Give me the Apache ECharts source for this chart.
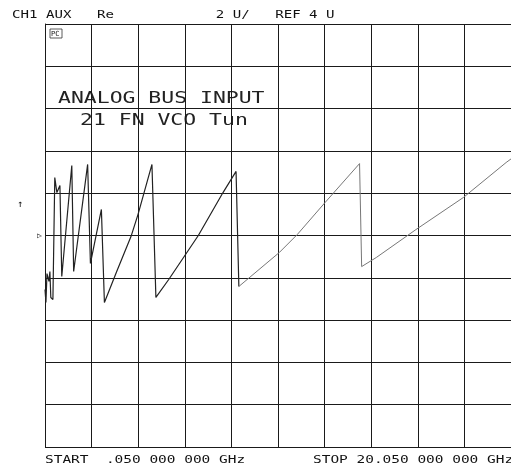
<!DOCTYPE html>
<html>
<head>
<meta charset="utf-8">
<script src="https://cdn.jsdelivr.net/npm/echarts@6/dist/echarts.min.js"></script>
<style>
  html, body { margin: 0; padding: 0; background: #fff; }
  #chart { width: 511px; height: 468px; }
</style>
</head>
<body>
<div id="chart"></div>
<script>
// trace values (GHz, AUX volts)
var freqGHz = [0.05, 0.09, 0.135, 0.22, 0.26, 0.30, 0.39, 0.47, 0.56, 0.69, 0.77,
  1.20, 1.28, 1.88, 2.00, 2.47, 2.60, 3.11, 3.74, 4.04, 4.64, 4.81, 5.36, 6.63, 7.69,
  8.25, 8.37, 10.11, 10.88, 12.07, 13.55, 13.64, 14.27, 15.97, 18.01, 19.84, 20.05];
var auxVolts = [1.45, 0.83, 2.20, 1.83, 2.30, 1.07, 0.97, 6.74, 6.03, 6.36, 2.06,
  7.31, 2.30, 7.36, 2.68, 5.23, 0.83, 2.25, 3.95, 4.99, 7.36, 1.07, 1.92, 4.00, 6.03,
  7.03, 1.59, 3.20, 4.05, 5.56, 7.40, 2.53, 2.96, 4.28, 5.80, 7.45, 7.62];
var faintFrom = 26; // after this point the plotted trace is thinner / lighter

var startGHz = 0.05;
var stopGHz = 20.05;
var refLevel = 4;
var perDiv = 2;
var divisions = 10;

var headerText = "CH1 AUX   Re            2 U/   REF 4 U";
var startLabel = "START  .050 000 000 GHz";
var stopLabel = "STOP 20.050 000 000 GHz";
var titleLines = ["ANALOG BUS INPUT", "21 FN VCO Tun"];

var monoFont = "DejaVu Sans Mono";

function pairs(from, to) {
  var out = [];
  for (var i = from; i < to; i++) out.push([freqGHz[i], auxVolts[i]]);
  return out;
}

function label(txt, x, y, size, sx, color) {
  return {
    type: "text", x: x, y: y, scaleX: sx, silent: true,
    style: { text: txt, x: 0, y: 0, font: size + "px " + monoFont, fill: color || "#111",
             textVerticalAlign: "middle", verticalAlign: "middle" }
  };
}

function overlay(refY) {
  var g = [
    label(headerText, 12, 15, 10, 1.41),
    label(startLabel, 45, 460, 10, 1.445),
    label(stopLabel, 313, 460, 10, 1.445),
    label(titleLines[0], 58, 99, 16, 1.34, "#222"),
    label(titleLines[1], 80, 121, 16, 1.34, "#222"),
    label("\u2191", 17, 204, 10, 1),
    { type: "rect", shape: { x: 50, y: 29, width: 12, height: 9 },
      style: { fill: "none", stroke: "#333", lineWidth: 0.8 } },
    label("PC", 51, 34, 7, 1)
  ];
  if (refY != null) g.push(label("\u25B7", 37, refY, 8, 1));
  return g;
}

var chart = echarts.init(document.getElementById("chart"));

var gridLine = { show: true, lineStyle: { color: "#1a1a1a", width: 1 } };

chart.setOption({
  animation: false,
  backgroundColor: "#fff",
  grid: { left: 45, top: 24, right: -5, bottom: 21 },
  xAxis: [
    { type: "value", min: startGHz, max: stopGHz, show: false },
    { type: "value", min: 0, max: divisions, interval: 1,
      axisLine: { show: false }, axisTick: { show: false }, axisLabel: { show: false },
      splitLine: gridLine }
  ],
  yAxis: {
    type: "value",
    min: refLevel - perDiv * divisions / 2,
    max: refLevel + perDiv * divisions / 2,
    interval: perDiv,
    axisLine: { show: true, lineStyle: { color: "#1a1a1a", width: 1 } },
    axisTick: { show: false },
    axisLabel: { show: false },
    splitLine: gridLine
  },
  series: [
    { type: "line", xAxisIndex: 0, data: pairs(0, faintFrom + 1), showSymbol: false,
      lineStyle: { color: "#222", width: 1.2 } },
    { type: "line", xAxisIndex: 0, data: pairs(faintFrom, freqGHz.length), showSymbol: false,
      lineStyle: { color: "#777", width: 1 } }
  ],
  graphic: overlay(null)
});

// reference level marker on the left edge
var refY = chart.convertToPixel({ yAxisIndex: 0 }, refLevel);
chart.setOption({ graphic: overlay(refY) });
</script>
</body>
</html>
